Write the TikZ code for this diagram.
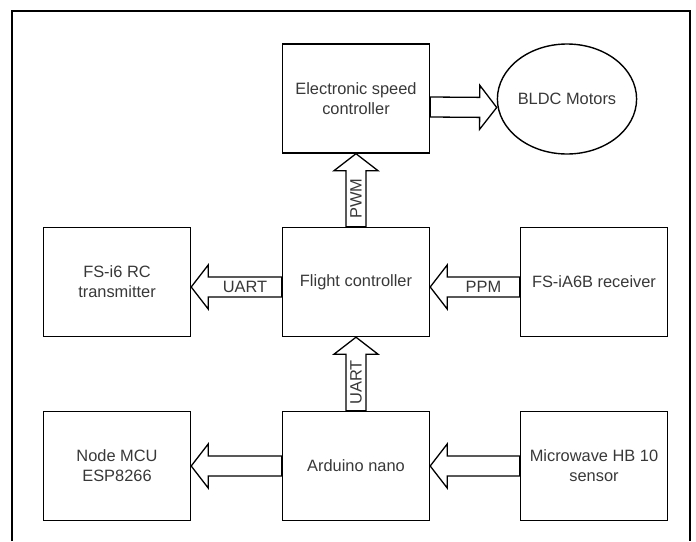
\documentclass[tikz,border=0pt]{standalone}
\usepackage{fontspec}
\setmainfont{Liberation Sans}
\usetikzlibrary{calc,shapes.geometric}
\tikzset{
  txt/.style={font=\fontsize{16.4}{20}\selectfont, text=black!78},
  box/.style={txt, draw, line width=1.4pt, minimum width=147pt, minimum height=109pt, inner sep=0pt, align=center},
  oval/.style={txt, draw, ellipse, line width=1.4pt, minimum width=130pt, minimum height=110pt, inner sep=0pt, align=center},
  blockarr/.style={draw, fill=white, line width=1.3pt, line join=miter},
  lbl/.style={txt, inner sep=0pt},
  frame/.style={draw, line width=2.5pt}
}
\newcommand{\blockarrow}[2]{%
  \coordinate (#1b) at ($(#2)!17pt!(#1)$);
  \draw[blockarr] ($(#1)!10pt!90:(#2)$) -- ($(#1b)!10pt!90:(#2)$) -- ($(#1b)!22pt!90:(#2)$) -- (#2)
    -- ($(#1b)!22pt!-90:(#2)$) -- ($(#1b)!10pt!-90:(#2)$) -- ($(#1)!10pt!-90:(#2)$) -- cycle;
}
\begin{document}
\begin{tikzpicture}[x=1pt,y=-1pt]
  \useasboundingbox (0,0) rectangle (696,541);
  \draw[frame] (12,541) -- (12,11) -- (690,11) -- (690,541);

  \node[box] (esc)  at (356,98.5) {Electronic speed\\controller};
  \node[oval] (bldc) at (567,99) {BLDC Motors};
  \node[box] (tx)   at (117,282) {FS-i6 RC\\transmitter};
  \node[box] (fc)   at (356,282) {Flight controller};
  \node[box] (rx)   at (594,282) {FS-iA6B receiver};
  \node[box] (mcu)  at (117,466) {Node MCU\\ESP8266};
  \node[box] (nano) at (356,466) {Arduino nano};
  \node[box] (mw)   at (594,466) {Microwave HB 10\\sensor};

  % ESC -> BLDC
  \coordinate (a1) at ([yshift=-8.5pt]esc.east);
  \coordinate (a1t) at ([yshift=-8.5pt]bldc.west);
  \blockarrow{a1}{a1t}
  % FC -> ESC (PWM)
  \coordinate (a2) at (fc.north);
  \coordinate (a2t) at (esc.south);
  \blockarrow{a2}{a2t}
  \path (a2) -- (a2b) node[midway, lbl, rotate=90] {PWM};
  % FC -> transmitter (UART)
  \coordinate (a3) at ([yshift=-5pt]fc.west);
  \coordinate (a3t) at ([yshift=-5pt]tx.east);
  \blockarrow{a3}{a3t}
  \path (a3) -- (a3b) node[midway, lbl] {UART};
  % receiver -> FC (PPM)
  \coordinate (a4) at ([yshift=-5pt]rx.west);
  \coordinate (a4t) at ([yshift=-5pt]fc.east);
  \blockarrow{a4}{a4t}
  \path (a4) -- (a4b) node[midway, lbl] {PPM};
  % nano -> FC (UART)
  \coordinate (a5) at (nano.north);
  \coordinate (a5t) at (fc.south);
  \blockarrow{a5}{a5t}
  \path (a5) -- (a5b) node[midway, lbl, rotate=90] {UART};
  % nano -> MCU
  \coordinate (a6) at (nano.west);
  \coordinate (a6t) at (mcu.east);
  \blockarrow{a6}{a6t}
  % microwave -> nano
  \coordinate (a7) at (mw.west);
  \coordinate (a7t) at (nano.east);
  \blockarrow{a7}{a7t}
\end{tikzpicture}
\end{document}
